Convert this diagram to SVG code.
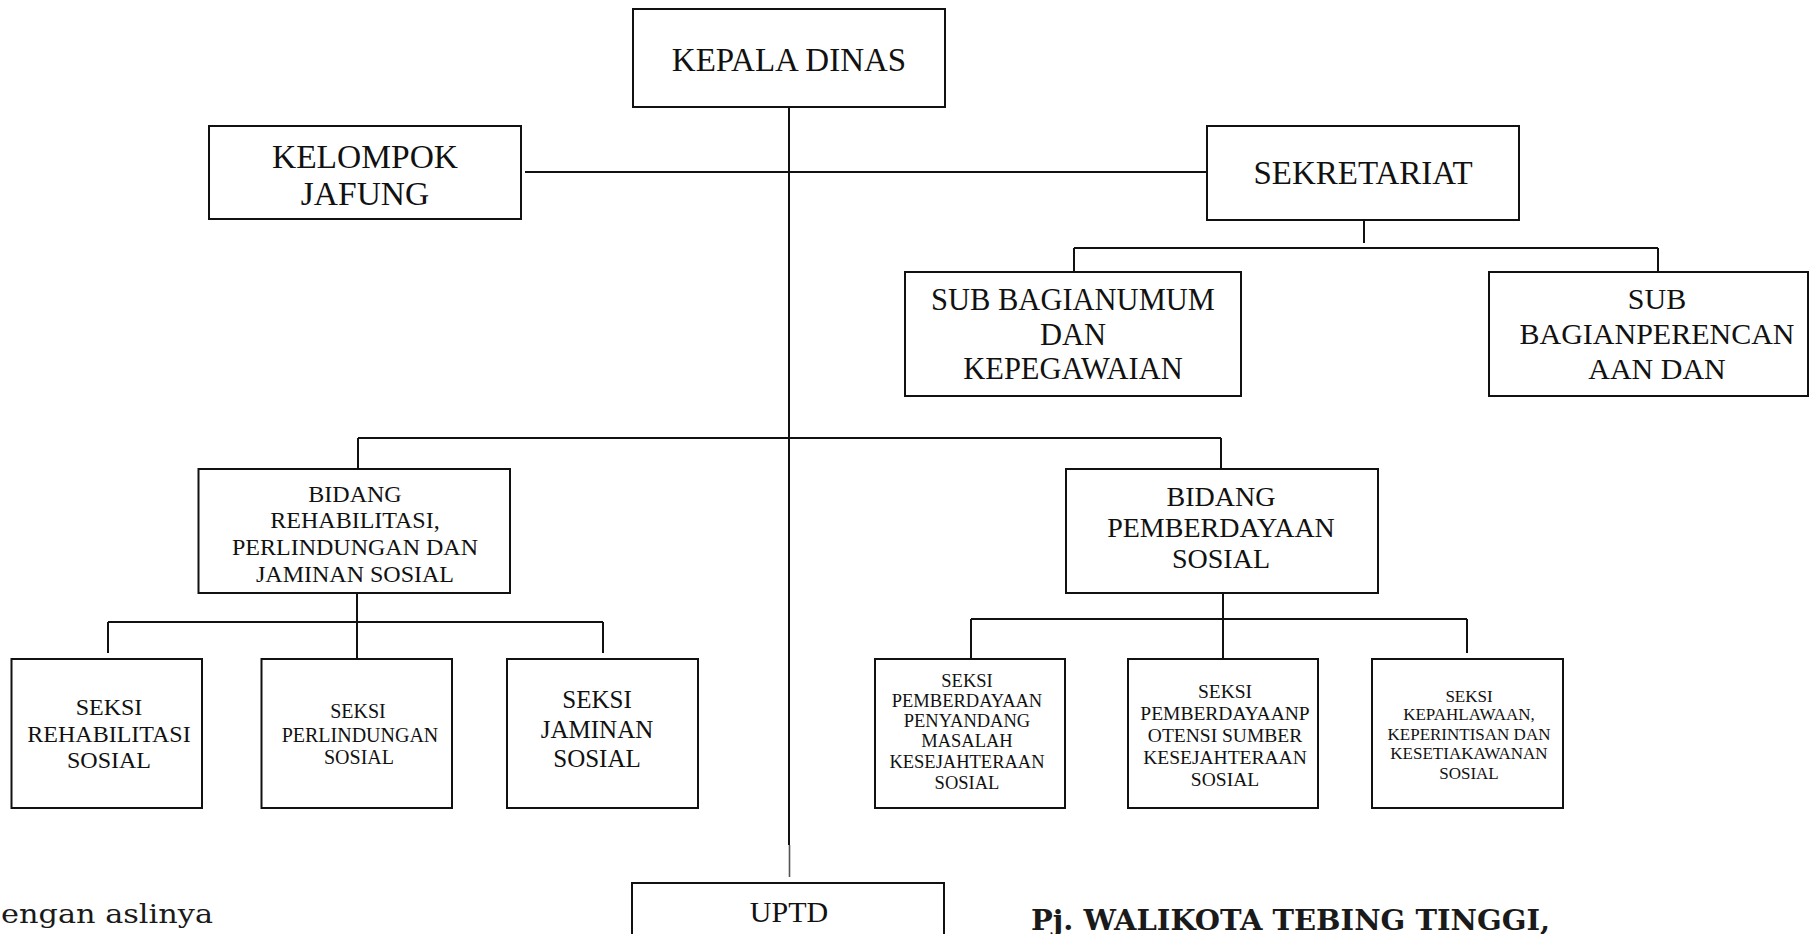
<svg xmlns="http://www.w3.org/2000/svg" width="1810" height="934" viewBox="0 0 1810 934">
  <style>
    .box { fill: #ffffff; stroke: #111111; stroke-width: 2; }
    .wire { fill: none; stroke: #111111; stroke-width: 2; }
    .wire-faint { fill: none; stroke: #555555; stroke-width: 1.6; }
    .lbl { font-family: "Liberation Serif", "Times New Roman", serif; fill: #111111; text-anchor: middle; }
    .foot { font-family: "DejaVu Serif", "Liberation Serif", serif; fill: #1a1a1a; }
  </style>
  <rect width="1810" height="934" fill="#ffffff"/>

  <!-- connectors -->
  <g id="connectors">
    <path class="wire" d="M789 107 V845"/>
    <path class="wire-faint" d="M789.5 845 V877"/>
    <path class="wire" d="M525 172 H1207"/>
    <path class="wire" d="M1364 220 V243 M1074 248 H1658 M1074 248 V272 M1658 248 V272"/>
    <path class="wire" d="M358 438 H1221 M358 438 V469 M1221 438 V469"/>
    <path class="wire" d="M357 593 V659 M108 622 H603 M108 622 V653 M603 622 V653"/>
    <path class="wire" d="M1223 593 V659 M971 619 H1467 M971 619 V659 M1467 619 V653"/>
  </g>

  <!-- nodes -->
  <g id="kepala-dinas">
    <rect class="box" x="633" y="9" width="312" height="98"/>
    <text class="lbl" x="789" y="71" font-size="33">KEPALA DINAS</text>
  </g>

  <g id="kelompok-jafung">
    <rect class="box" x="209" y="126" width="312" height="93"/>
    <text class="lbl" x="365" y="168" font-size="33.5">KELOMPOK</text>
    <text class="lbl" x="365" y="205" font-size="33.5">JAFUNG</text>
  </g>

  <g id="sekretariat">
    <rect class="box" x="1207" y="126" width="312" height="94"/>
    <text class="lbl" x="1363" y="184" font-size="33">SEKRETARIAT</text>
  </g>

  <g id="sub-bagian-umum">
    <rect class="box" x="905" y="272" width="336" height="124"/>
    <text class="lbl" x="1073" y="310" font-size="30.5">SUB BAGIANUMUM</text>
    <text class="lbl" x="1073" y="345" font-size="30.5">DAN</text>
    <text class="lbl" x="1073" y="379" font-size="30.5">KEPEGAWAIAN</text>
  </g>

  <g id="sub-bagian-perencanaan">
    <rect class="box" x="1489" y="272" width="319" height="124"/>
    <text class="lbl" x="1657" y="309" font-size="30">SUB</text>
    <text class="lbl" x="1657" y="344" font-size="30">BAGIANPERENCAN</text>
    <text class="lbl" x="1657" y="379" font-size="30">AAN DAN</text>
  </g>

  <g id="bidang-rehabilitasi">
    <rect class="box" x="198.5" y="469" width="311.5" height="124"/>
    <text class="lbl" x="355" y="502" font-size="24">BIDANG</text>
    <text class="lbl" x="355" y="528" font-size="24">REHABILITASI,</text>
    <text class="lbl" x="355" y="555" font-size="24">PERLINDUNGAN DAN</text>
    <text class="lbl" x="355" y="582" font-size="24">JAMINAN SOSIAL</text>
  </g>

  <g id="bidang-pemberdayaan">
    <rect class="box" x="1066" y="469" width="312" height="124"/>
    <text class="lbl" x="1221" y="506" font-size="28">BIDANG</text>
    <text class="lbl" x="1221" y="537" font-size="28">PEMBERDAYAAN</text>
    <text class="lbl" x="1221" y="568" font-size="28">SOSIAL</text>
  </g>

  <g id="seksi-rehabilitasi">
    <rect class="box" x="11.5" y="659" width="190.5" height="149"/>
    <text class="lbl" x="109" y="715" font-size="24">SEKSI</text>
    <text class="lbl" x="109" y="742" font-size="24">REHABILITASI</text>
    <text class="lbl" x="109" y="768" font-size="24">SOSIAL</text>
  </g>

  <g id="seksi-perlindungan">
    <rect class="box" x="261.5" y="659" width="190.5" height="149"/>
    <text class="lbl" x="358" y="718" font-size="20">SEKSI</text>
    <text class="lbl" x="360" y="742" font-size="20">PERLINDUNGAN</text>
    <text class="lbl" x="359" y="764" font-size="20">SOSIAL</text>
  </g>

  <g id="seksi-jaminan">
    <rect class="box" x="507" y="659" width="191" height="149"/>
    <text class="lbl" x="597" y="708" font-size="25">SEKSI</text>
    <text class="lbl" x="597" y="738" font-size="25">JAMINAN</text>
    <text class="lbl" x="597" y="767" font-size="25">SOSIAL</text>
  </g>

  <g id="seksi-pemberdayaan-ppks">
    <rect class="box" x="875" y="659" width="190" height="149"/>
    <text class="lbl" x="967" y="687" font-size="18.5">SEKSI</text>
    <text class="lbl" x="967" y="707" font-size="18.5">PEMBERDAYAAN</text>
    <text class="lbl" x="967" y="727" font-size="18.5">PENYANDANG</text>
    <text class="lbl" x="967" y="747" font-size="18.5">MASALAH</text>
    <text class="lbl" x="967" y="768" font-size="18.5">KESEJAHTERAAN</text>
    <text class="lbl" x="967" y="789" font-size="18.5">SOSIAL</text>
  </g>

  <g id="seksi-pemberdayaan-psks">
    <rect class="box" x="1128" y="659" width="190" height="149"/>
    <text class="lbl" x="1225" y="698" font-size="19.5">SEKSI</text>
    <text class="lbl" x="1225" y="720" font-size="19.5">PEMBERDAYAANP</text>
    <text class="lbl" x="1225" y="742" font-size="19.5">OTENSI SUMBER</text>
    <text class="lbl" x="1225" y="764" font-size="19.5">KESEJAHTERAAN</text>
    <text class="lbl" x="1225" y="786" font-size="19.5">SOSIAL</text>
  </g>

  <g id="seksi-kepahlawanan">
    <rect class="box" x="1372" y="659" width="191" height="149"/>
    <text class="lbl" x="1469" y="702" font-size="17">SEKSI</text>
    <text class="lbl" x="1469" y="720" font-size="17">KEPAHLAWAAN,</text>
    <text class="lbl" x="1469" y="740" font-size="17">KEPERINTISAN DAN</text>
    <text class="lbl" x="1469" y="759" font-size="17">KESETIAKAWANAN</text>
    <text class="lbl" x="1469" y="779" font-size="17">SOSIAL</text>
  </g>

  <g id="uptd">
    <rect class="box" x="632" y="883" width="312" height="70"/>
    <text class="lbl" x="789" y="921.5" font-size="30">UPTD</text>
  </g>

  <!-- page text below the chart -->
  <text class="foot" x="1" y="923" font-size="26" textLength="212" lengthAdjust="spacingAndGlyphs">engan aslinya</text>
  <text class="foot" x="1031" y="930" font-size="27" font-weight="bold" textLength="519" lengthAdjust="spacingAndGlyphs">Pj. WALIKOTA TEBING TINGGI,</text>
</svg>
